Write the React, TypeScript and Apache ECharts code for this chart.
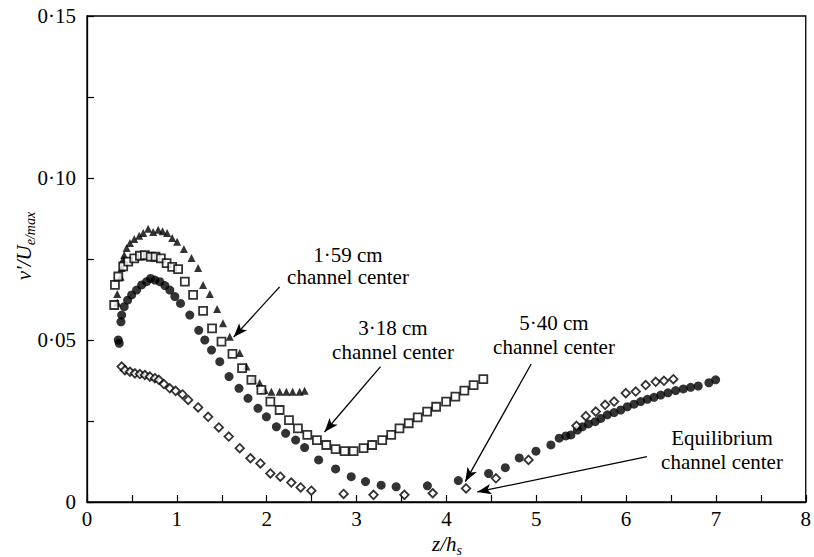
import React, { useEffect, useRef } from 'react';
import * as echarts from 'echarts';

// ---- tick labels ----
const xTickLabels = ['0', '1', '2', '3', '4', '5', '6', '7', '8'];
const yTickLabels = ['0', '0·05', '0·10', '0·15'];

// ---- 1·59 cm channel center (filled triangles) ----
const cm159Z = [0.337, 0.337, 0.374, 0.386, 0.397, 0.414, 0.441, 0.478, 0.526, 0.581, 0.626, 0.681, 0.737, 0.792, 0.841, 0.892, 0.948, 1.003, 1.078, 1.163, 1.237, 1.292, 1.367, 1.448, 1.514, 1.589, 1.7, 1.774, 1.844, 1.922, 1.978, 2.052, 2.144, 2.219, 2.289, 2.367, 2.422];
const cm159Y = [0.0615, 0.0642, 0.0695, 0.0722, 0.0747, 0.0762, 0.0784, 0.0799, 0.0812, 0.0822, 0.083, 0.0843, 0.0833, 0.084, 0.0836, 0.083, 0.0815, 0.0803, 0.0781, 0.0753, 0.0722, 0.067, 0.0642, 0.0596, 0.0552, 0.051, 0.046, 0.0418, 0.0377, 0.0367, 0.0346, 0.034, 0.034, 0.034, 0.034, 0.034, 0.0343];

// ---- 3·18 cm channel center (open squares) ----
const cm318Z = [0.303, 0.311, 0.348, 0.403, 0.459, 0.526, 0.589, 0.644, 0.708, 0.763, 0.822, 0.886, 0.948, 1.014, 1.089, 1.181, 1.292, 1.392, 1.497, 1.619, 1.726, 1.83, 1.941, 2.041, 2.144, 2.248, 2.348, 2.452, 2.559, 2.663, 2.767, 2.867, 2.967, 3.078, 3.174, 3.286, 3.386, 3.478, 3.581, 3.681, 3.786, 3.886, 3.997, 4.1, 4.2, 4.303, 4.411];
const cm318Y = [0.0608, 0.067, 0.0696, 0.0727, 0.0742, 0.0752, 0.076, 0.0762, 0.0757, 0.0757, 0.0752, 0.0737, 0.0726, 0.0719, 0.068, 0.0639, 0.059, 0.0536, 0.0495, 0.0457, 0.0413, 0.0377, 0.0346, 0.031, 0.0284, 0.0253, 0.0227, 0.0207, 0.0191, 0.0176, 0.0163, 0.0157, 0.0157, 0.0166, 0.0176, 0.0191, 0.0207, 0.0227, 0.0243, 0.0261, 0.0279, 0.0294, 0.031, 0.0325, 0.0344, 0.0361, 0.0379];

// ---- 5·40 cm channel center (filled circles) ----
const cm540Z = [0.348, 0.359, 0.378, 0.386, 0.414, 0.452, 0.497, 0.552, 0.608, 0.663, 0.708, 0.756, 0.811, 0.867, 0.922, 0.978, 1.041, 1.144, 1.244, 1.311, 1.386, 1.478, 1.581, 1.692, 1.792, 1.903, 1.997, 2.108, 2.211, 2.322, 2.422, 2.578, 2.767, 2.941, 3.1, 3.274, 3.441, 3.789, 4.133, 4.47, 4.656, 4.811, 4.997, 5.163, 5.256, 5.33, 5.386, 5.459, 5.514, 5.581, 5.656, 5.719, 5.792, 5.867, 5.941, 6.014, 6.089, 6.163, 6.237, 6.311, 6.386, 6.467, 6.552, 6.637, 6.719, 6.803, 6.922, 6.997];
const cm540Y = [0.05, 0.049, 0.0556, 0.0577, 0.0603, 0.0623, 0.0639, 0.0654, 0.067, 0.068, 0.069, 0.0685, 0.068, 0.0668, 0.0654, 0.0634, 0.0613, 0.0577, 0.053, 0.05, 0.0469, 0.0433, 0.0387, 0.0351, 0.032, 0.0289, 0.0263, 0.0232, 0.0212, 0.0191, 0.0168, 0.013, 0.0102, 0.0078, 0.0063, 0.0052, 0.0047, 0.005, 0.0066, 0.0088, 0.0106, 0.0136, 0.0157, 0.0176, 0.0197, 0.0204, 0.0207, 0.0222, 0.0232, 0.0241, 0.0248, 0.0258, 0.0269, 0.0276, 0.0284, 0.0294, 0.0302, 0.031, 0.0317, 0.0323, 0.033, 0.0337, 0.0344, 0.0349, 0.0354, 0.0358, 0.0368, 0.0377];

// ---- Equilibrium channel center (open diamonds) ----
const eqZ = [0.386, 0.422, 0.478, 0.533, 0.589, 0.644, 0.7, 0.756, 0.8, 0.856, 0.922, 0.986, 1.063, 1.126, 1.237, 1.348, 1.467, 1.578, 1.7, 1.819, 1.93, 2.041, 2.152, 2.274, 2.378, 2.497, 2.856, 3.189, 3.533, 3.848, 4.219, 4.552, 4.914, 5.448, 5.552, 5.663, 5.767, 5.867, 5.997, 6.108, 6.219, 6.33, 6.422, 6.526];
const eqY = [0.0418, 0.0407, 0.0402, 0.0397, 0.0395, 0.0392, 0.0387, 0.0382, 0.0377, 0.0364, 0.0351, 0.0343, 0.0332, 0.0315, 0.0292, 0.0263, 0.023, 0.0202, 0.0166, 0.0135, 0.0119, 0.0088, 0.0078, 0.006, 0.0045, 0.0035, 0.0025, 0.0022, 0.0022, 0.0027, 0.0042, 0.0073, 0.013, 0.0235, 0.0265, 0.0279, 0.03, 0.031, 0.0336, 0.0341, 0.0361, 0.0371, 0.0374, 0.0379];

// ---- annotation texts and arrows (data coordinates) ----
const annotationLines = [
  ['1·59 cm', 'channel center'],
  ['3·18 cm', 'channel center'],
  ['5·40 cm', 'channel center'],
  ['Equilibrium', 'channel center'],
];
const arrowFrom = [[2.144, 0.0664], [3.267, 0.0418], [4.944, 0.0426], [6.233, 0.014]];
const arrowTo = [[1.633, 0.0509], [2.644, 0.0216], [4.211, 0.0063], [4.344, 0.0031]];

const FONT = "'Liberation Serif', 'Times New Roman', serif";

export default function App() {
  const ref = useRef<HTMLDivElement>(null);

  useEffect(() => {
    document.body.style.margin = '0';
    const chart = echarts.init(ref.current!, null, { renderer: 'svg' });
    const pair = (zs: number[], ys: number[]) => zs.map((z, i) => [z, ys[i]]);

    const textPos = [
      [348, 255, 277],
      [393, 328, 352],
      [554, 323, 347],
      [722, 438, 462],
    ];
    const annotationGraphics: any[] = [];
    annotationLines.forEach((lines, i) => {
      const [x, y1, y2] = textPos[i];
      [y1, y2].forEach((y, j) => {
        annotationGraphics.push({
          type: 'text',
          x,
          y,
          silent: true,
          style: {
            text: lines[j],
            fontFamily: FONT,
            fontSize: 21,
            fill: '#000',
            align: 'center',
            verticalAlign: 'middle',
          },
        });
      });
    });

    const axisCommon = {
      type: 'value',
      axisLine: { show: true, onZero: false, lineStyle: { color: '#000', width: 1.3 } },
      axisTick: { show: true, inside: true, length: 7, lineStyle: { color: '#000', width: 1.2 } },
      minorTick: { show: true, splitNumber: 2, length: 7, lineStyle: { color: '#000', width: 1.2 } },
      splitLine: { show: false },
      minorSplitLine: { show: false },
    };

    const richAxisName = {
      i: { fontFamily: FONT, fontStyle: 'italic', fontSize: 21, lineHeight: 26, fill: '#000' },
      s: { fontFamily: FONT, fontStyle: 'italic', fontSize: 14, lineHeight: 16, verticalAlign: 'bottom', fill: '#000' },
    };

    const option: any = {
      animation: false,
      backgroundColor: '#fff',
      textStyle: { fontFamily: FONT },
      grid: {
        left: 87,
        right: 7,
        top: 16,
        bottom: 55,
        show: true,
        borderColor: '#000',
        borderWidth: 1.3,
        backgroundColor: 'transparent',
      },
      xAxis: {
        ...axisCommon,
        min: 0,
        max: 8,
        interval: 1,
        axisLabel: {
          color: '#000',
          fontFamily: FONT,
          fontSize: 21,
          margin: 6,
          formatter: (v: number) => xTickLabels[Math.round(v)],
        },
      },
      yAxis: {
        ...axisCommon,
        min: 0,
        max: 0.15,
        interval: 0.05,
        axisLabel: {
          color: '#000',
          fontFamily: FONT,
          fontSize: 21,
          margin: 11,
          formatter: (v: number) => yTickLabels[Math.round(v / 0.05)],
        },
      },
      series: [
        {
          type: 'scatter',
          name: '5·40 cm channel center',
          data: pair(cm540Z, cm540Y),
          symbol: 'circle',
          symbolSize: 9,
          itemStyle: { color: '#000' },
          silent: true,
        },
        {
          type: 'scatter',
          name: 'Equilibrium channel center',
          data: pair(eqZ, eqY),
          symbol: 'diamond',
          symbolSize: 8.5,
          itemStyle: { color: '#fff', borderColor: '#000', borderWidth: 1.8 },
          silent: true,
        },
        {
          type: 'scatter',
          name: '1·59 cm channel center',
          data: pair(cm159Z, cm159Y),
          symbol: 'triangle',
          symbolSize: 8,
          itemStyle: { color: '#000' },
          silent: true,
        },
        {
          type: 'scatter',
          name: '3·18 cm channel center',
          data: pair(cm318Z, cm318Y),
          symbol: 'rect',
          symbolSize: 8,
          itemStyle: { color: '#fff', borderColor: '#000', borderWidth: 1.8 },
          silent: true,
        },
        {
          type: 'scatter',
          name: 'arrows',
          data: [],
          silent: true,
          markLine: {
            silent: true,
            animation: false,
            symbol: ['none', 'arrow'],
            label: { show: false },
            emphasis: { disabled: true },
            lineStyle: { color: '#000', width: 1.3, type: 'solid' },
            data: arrowFrom.map((f, i) => [
              { coord: f, symbol: 'none' },
              { coord: arrowTo[i], symbol: 'arrow', symbolSize: [8, 14] },
            ]),
          },
        },
      ],
      graphic: [
        ...annotationGraphics,
        {
          type: 'text',
          x: 24,
          y: 246,
          rotation: Math.PI / 2,
          silent: true,
          style: {
            text: '{i|v′/U}{s|e/max}',
            align: 'center',
            verticalAlign: 'middle',
            fill: '#000',
            rich: richAxisName,
          },
        },
        {
          type: 'text',
          x: 447,
          y: 544,
          silent: true,
          style: {
            text: '{i|z/h}{s|s}',
            align: 'center',
            verticalAlign: 'middle',
            fill: '#000',
            rich: richAxisName,
          },
        },
      ],
    };

    chart.setOption(option);
    return () => chart.dispose();
  }, []);

  return <div ref={ref} style={{ width: 814, height: 557 }} />;
}
